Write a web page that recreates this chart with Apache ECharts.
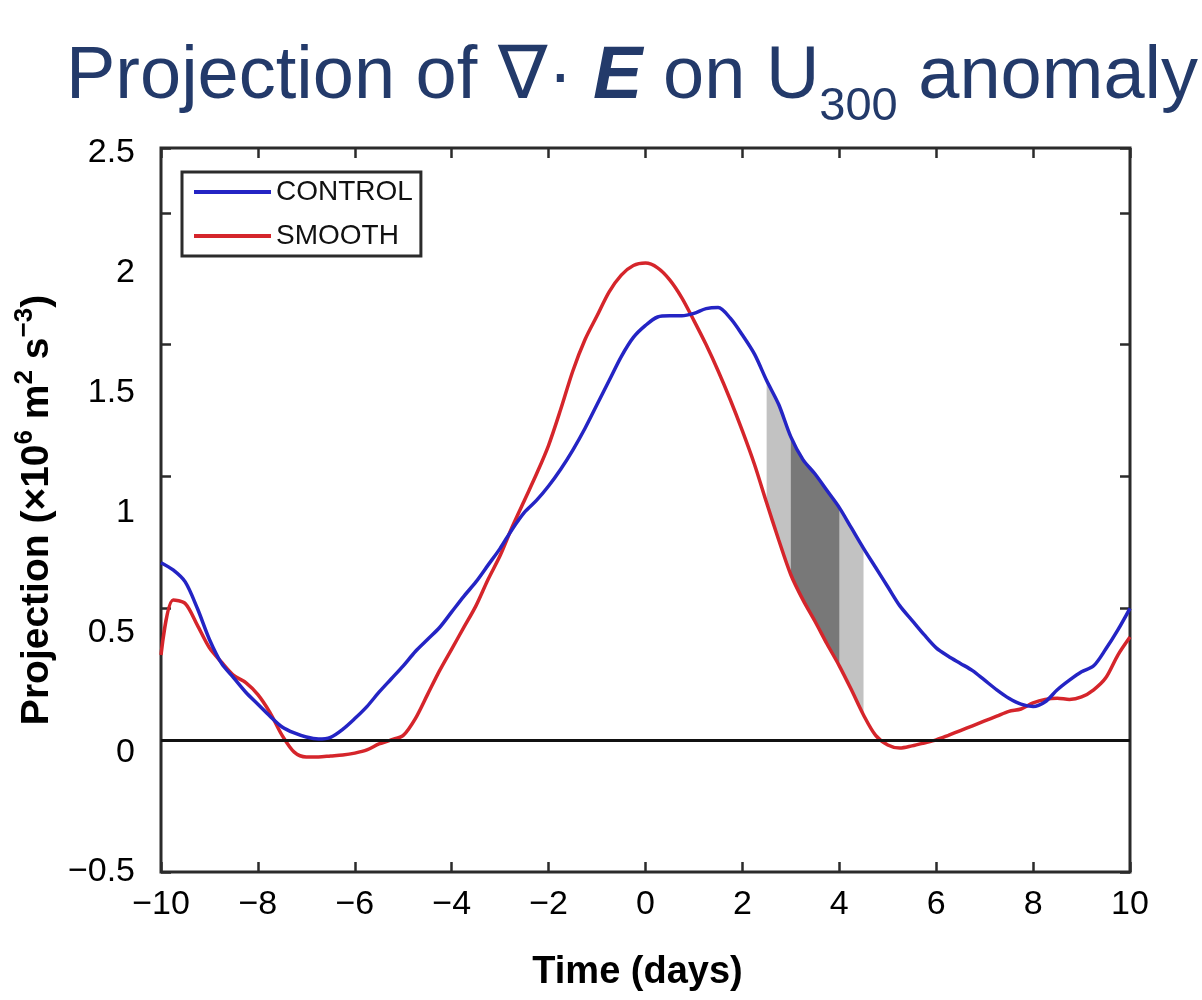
<!DOCTYPE html>
<html>
<head>
<meta charset="utf-8">
<script src="https://cdn.jsdelivr.net/npm/echarts@6/dist/echarts.min.js"></script>
<style>
html,body{margin:0;padding:0;background:#fff;}
#chart{width:1202px;height:1000px;}
</style>
</head>
<body>
<div id="chart"></div>
<script>
// Time axis (days)
const days = [-10,-9.75,-9.5,-9.25,-9,-8.75,-8.5,-8.25,-8,-7.75,-7.5,-7.25,-7,-6.75,-6.5,-6.25,-6,-5.75,-5.5,-5.25,-5,-4.75,-4.5,-4.25,-4,-3.75,-3.5,-3.25,-3,-2.75,-2.5,-2.25,-2,-1.75,-1.5,-1.25,-1,-0.75,-0.5,-0.25,0,0.25,0.5,0.75,1,1.25,1.5,1.75,2,2.25,2.5,2.75,3,3.25,3.5,3.75,4,4.25,4.5,4.75,5,5.25,5.5,5.75,6,6.25,6.5,6.75,7,7.25,7.5,7.75,8,8.25,8.5,8.75,9,9.25,9.5,9.75,10];
// CONTROL projection
const control = [0.79,0.76,0.71,0.60,0.47,0.37,0.31,0.25,0.20,0.15,0.105,0.08,0.063,0.055,0.062,0.095,0.14,0.19,0.25,0.305,0.36,0.42,0.47,0.52,0.585,0.65,0.71,0.78,0.85,0.93,1.00,1.05,1.11,1.18,1.26,1.35,1.45,1.55,1.65,1.73,1.78,1.815,1.82,1.82,1.83,1.85,1.855,1.81,1.74,1.66,1.55,1.45,1.315,1.22,1.16,1.09,1.02,0.935,0.85,0.77,0.69,0.61,0.55,0.49,0.435,0.40,0.37,0.34,0.30,0.26,0.225,0.20,0.19,0.21,0.26,0.30,0.335,0.36,0.43,0.51,0.60];
// SMOOTH projection
const smooth = [0.405,0.635,0.62,0.53,0.435,0.375,0.32,0.29,0.24,0.165,0.07,0.00,-0.02,-0.02,-0.016,-0.012,-0.004,0.009,0.034,0.051,0.07,0.14,0.24,0.34,0.43,0.52,0.61,0.72,0.82,0.94,1.05,1.16,1.28,1.43,1.59,1.72,1.82,1.92,1.99,2.03,2.04,2.02,1.97,1.895,1.80,1.70,1.59,1.47,1.34,1.20,1.04,0.885,0.74,0.635,0.545,0.45,0.36,0.26,0.155,0.07,0.03,0.017,0.026,0.038,0.051,0.07,0.09,0.11,0.13,0.15,0.17,0.18,0.205,0.22,0.225,0.22,0.23,0.26,0.31,0.405,0.48];
// shaded time windows [start, end]
const bandWide = [2.5, 4.5];
const bandNarrow = [3, 4];
const yTickLabels = [-0.5,0,0.5,1,1.5,2,2.5];

const fmt = v => (v < 0 ? '\u2212' + String(-v) : String(v));
const FONT = '"Liberation Sans", Arial, Helvetica, sans-serif';
const AX = '#2b2b2b';
const TITLE_C = '#233a6a';

const chart = echarts.init(document.getElementById('chart'));
const bandColors = ['#c2c2c2', '#787878'];
const tickStyle = { inside: true, length: 10, lineStyle: { color: AX, width: 2.5 } };

const option = {
  animation: false,
  backgroundColor: '#fff',
  textStyle: { fontFamily: FONT },
  title: {
    left: 61, top: 48,
    text: '{a|Projection of \u2207\u00b7 }{b|E}{a| on U}{s|300}{a| anomaly}',
    textStyle: {
      fontWeight: 'normal',
      rich: {
        a: { fontFamily: FONT, fontSize: 74, fontWeight: 'normal', color: TITLE_C, lineHeight: 78, padding: [0,0,16,0], verticalAlign: 'bottom' },
        b: { fontFamily: FONT, fontSize: 74, color: TITLE_C, fontWeight: 'bold', fontStyle: 'italic', lineHeight: 78, padding: [0,0,16,0], verticalAlign: 'bottom' },
        s: { fontFamily: FONT, fontSize: 47, fontWeight: 'normal', color: TITLE_C, lineHeight: 50, verticalAlign: 'bottom' }
      }
    }
  },
  legend: {
    left: 182, top: 172,
    orient: 'vertical',
    data: ['CONTROL', 'SMOOTH'],
    icon: 'rect',
    itemWidth: 77, itemHeight: 4, itemGap: 16,
    padding: [6, 8, 6, 12],
    borderColor: AX, borderWidth: 3,
    backgroundColor: '#fff',
    textStyle: { fontFamily: FONT, fontSize: 28, color: '#111', lineHeight: 28 }
  },
  grid: { left: 161, right: 72, top: 148, bottom: 128, show: true, borderColor: AX, borderWidth: 3, backgroundColor: 'transparent' },
  xAxis: [
    {
      type: 'value', position: 'bottom', min: -10, max: 10, interval: 2,
      axisLine: { show: false, onZero: false }, splitLine: { show: false },
      axisTick: tickStyle,
      axisLabel: { fontFamily: FONT, fontSize: 34, color: '#000', margin: 16, formatter: fmt },
      name: 'Time (days)', nameLocation: 'middle', nameGap: 82,
      nameTextStyle: { fontFamily: FONT, fontSize: 38, fontWeight: 'bold', color: '#000', padding: [0, 16, 0, 0] }
    },
    {
      type: 'value', position: 'top', min: -10, max: 10, interval: 2,
      axisLine: { show: false, onZero: false }, splitLine: { show: false },
      axisTick: tickStyle,
      axisLabel: { show: false }
    }
  ],
  yAxis: [
    {
      type: 'value', position: 'left', min: -0.5, max: 2.52, interval: 0.5,
      axisLine: { show: false, onZero: false }, splitLine: { show: false }, axisTick: { show: false },
      axisLabel: {
        fontFamily: FONT, fontSize: 34, color: '#000', margin: 26,
        formatter: v => (yTickLabels.some(t => Math.abs(t - v) < 1e-6) ? fmt(v) : '')
      },
      name: '{n|Projection (\u00d710}{p|6}{n| m}{p|2}{n| s}{p|\u22123}{n|)}',
      nameLocation: 'middle', nameRotate: 90, nameGap: 98,
      nameTextStyle: {
        rich: {
          n: { fontFamily: FONT, fontSize: 39, fontWeight: 'bold', color: '#000', lineHeight: 42, verticalAlign: 'bottom' },
          p: { fontFamily: FONT, fontSize: 26, fontWeight: 'bold', color: '#000', lineHeight: 26, padding: [0,0,19,0], verticalAlign: 'bottom' }
        }
      }
    },
    {
      type: 'value', position: 'left', min: -0.5, max: 2.246, interval: 0.5,
      axisLine: { show: false, onZero: false }, splitLine: { show: false }, axisLabel: { show: false },
      axisTick: tickStyle
    },
    {
      type: 'value', position: 'right', min: -0.5, max: 2.246, interval: 0.5,
      axisLine: { show: false, onZero: false }, splitLine: { show: false }, axisLabel: { show: false },
      axisTick: tickStyle
    }
  ],
  series: [
    {
      type: 'custom', name: 'band', xAxisIndex: 0, yAxisIndex: 0, z: 1,
      data: [[bandWide[0], bandWide[1], 0], [bandNarrow[0], bandNarrow[1], 1]],
      encode: { x: [0, 1], y: 2 },
      renderItem: function (params, api) {
        const x0 = api.value(0), x1 = api.value(1);
        const top = [], bot = [];
        for (let i = 0; i < days.length; i++) {
          if (days[i] >= x0 - 1e-9 && days[i] <= x1 + 1e-9) {
            top.push(api.coord([days[i], control[i]]));
            bot.push(api.coord([days[i], smooth[i]]));
          }
        }
        const pts = top.concat(bot.reverse());
        return { type: 'polygon', shape: { points: pts }, style: { fill: bandColors[params.dataIndex], stroke: null } };
      },
      silent: true
    },
    {
      name: 'CONTROL', type: 'line', xAxisIndex: 0, yAxisIndex: 0, z: 5,
      data: days.map((d, i) => [d, control[i]]),
      showSymbol: false, symbol: 'none', smooth: 0.3,
      lineStyle: { color: '#2424c4', width: 3.5 }, itemStyle: { color: '#2424c4' }
    },
    {
      name: 'SMOOTH', type: 'line', xAxisIndex: 0, yAxisIndex: 0, z: 4,
      data: days.map((d, i) => [d, smooth[i]]),
      showSymbol: false, symbol: 'none', smooth: 0.3,
      lineStyle: { color: '#d5252b', width: 3.5 }, itemStyle: { color: '#d5252b' }
    },
    {
      name: 'zero', type: 'line', xAxisIndex: 0, yAxisIndex: 1, data: [], z: 3,
      markLine: {
        silent: true, symbol: ['none', 'none'], label: { show: false },
        lineStyle: { color: '#111', width: 3, type: 'solid' },
        data: [{ yAxis: 0 }]
      }
    }
  ]
};
chart.setOption(option);
</script>
</body>
</html>
